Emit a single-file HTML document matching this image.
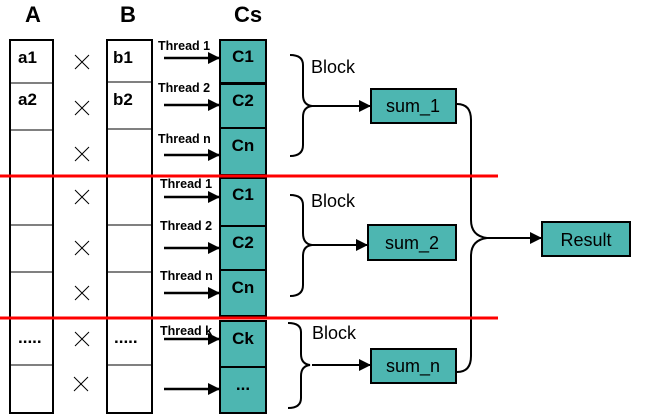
<!DOCTYPE html>
<html><head><style>body{margin:0;background:#fff}svg{display:block}</style></head><body>
<svg width="656" height="419" viewBox="0 0 656 419" xmlns="http://www.w3.org/2000/svg" font-family="Liberation Sans, Arial, sans-serif">
<defs><marker id="ah" markerWidth="12" markerHeight="12" refX="11" refY="6" orient="auto" markerUnits="userSpaceOnUse"><path d="M0,0 L12,6 L0,12 z" fill="#000"/></marker></defs>
<text x="33" y="22" font-size="22" font-weight="bold" text-anchor="middle">A</text>
<text x="128" y="22" font-size="22" font-weight="bold" text-anchor="middle">B</text>
<text x="248" y="22" font-size="22" font-weight="bold" text-anchor="middle">Cs</text>
<g fill="none" stroke="#000">
<rect x="10" y="40" width="43" height="373" stroke-width="2"/>
<rect x="107" y="40" width="45" height="373" stroke-width="2"/>
<path d="M10 83H53M10 130H53M10 225H53M10 272H53M10 365H53M107 82H152M107 129H152M107 225H152M107 272H152M107 365H152" stroke-width="1"/>
</g>
<g fill="#4db6b1" stroke="#000" stroke-width="2">
<rect x="220" y="40" width="46" height="43"/><rect x="220" y="84" width="46" height="44"/><rect x="220" y="128" width="46" height="47"/>
<rect x="220" y="178" width="46" height="48"/><rect x="220" y="226" width="46" height="44"/><rect x="220" y="270" width="46" height="46"/>
<rect x="220" y="321" width="46" height="46"/><rect x="220" y="367" width="46" height="46"/>
</g>
<g font-size="17" font-weight="bold" text-anchor="middle">
<text x="243" y="62">C1</text><text x="243" y="106">C2</text><text x="243" y="151">Cn</text>
<text x="243" y="200">C1</text><text x="243" y="248">C2</text><text x="243" y="293">Cn</text>
<text x="243" y="344">Ck</text><text x="243" y="390">...</text>
</g>
<g font-size="17" font-weight="bold">
<text x="18" y="63">a1</text><text x="18" y="105">a2</text>
<text x="113" y="63">b1</text><text x="113" y="105">b2</text>
<text x="18" y="343">.....</text><text x="114" y="343">.....</text>
</g>
<g stroke="#000" stroke-width="1">
<path d="M75 55l14 14M89 55l-14 14M75 101l14 14M89 101l-14 14M75 147l14 14M89 147l-14 14M75 190l14 14M89 190l-14 14M75 241l14 14M89 241l-14 14M75 286l14 14M89 286l-14 14M75 332l14 14M89 332l-14 14M74 377l14 14M88 377l-14 14"/>
</g>
<g font-size="12.5" font-weight="bold">
<text x="158" y="50">Thread 1</text><text x="158" y="92">Thread 2</text><text x="158" y="143">Thread n</text>
<text x="160" y="188">Thread 1</text><text x="160" y="230">Thread 2</text><text x="160" y="280">Thread n</text>
<text x="160" y="335">Thread k</text>
</g>
<g stroke="#000" stroke-width="2.5" marker-end="url(#ah)">
<line x1="164" y1="58" x2="219" y2="58"/><line x1="164" y1="105" x2="219" y2="105"/><line x1="164" y1="155" x2="219" y2="155"/>
<line x1="164" y1="197" x2="219" y2="197"/><line x1="164" y1="248" x2="219" y2="248"/><line x1="164" y1="293" x2="219" y2="293"/>
<line x1="164" y1="339" x2="219" y2="339"/><line x1="164" y1="389" x2="219" y2="389"/>
</g>
<g stroke="#000" stroke-width="2" marker-end="url(#ah)">
<line x1="310" y1="106" x2="370" y2="106"/><line x1="312" y1="245" x2="367" y2="245"/><line x1="312" y1="365" x2="370" y2="365"/><line x1="487" y1="238" x2="541" y2="238"/>
</g>
<g fill="none" stroke="#000" stroke-width="2">
<path d="M290 55q13 0 13 10v30q0 10 9 11q-9 1 -9 11v28q0 11 -13 11"/>
<path d="M290 195q13 0 13 10v28q0 11 9 12q-9 1 -9 11v29q0 11 -13 11"/>
<path d="M288 323q13 0 13 9v22q0 10 9 11q-9 1 -9 11v22q0 10 -13 10"/>
<path d="M457 104q14 0 14 16v100q0 16 16 18q-16 2 -16 18v100q0 16 -14 16"/>
</g>
<path d="M0 176H498M0 318H498" stroke="#f00" stroke-width="3"/>
<g font-size="18"><text x="311" y="73">Block</text><text x="311" y="207">Block</text><text x="312" y="339">Block</text></g>
<g fill="#4db6b1" stroke="#000" stroke-width="2">
<rect x="371" y="89" width="85" height="34"/><rect x="368" y="225" width="88" height="35"/><rect x="371" y="349" width="85" height="34"/><rect x="542" y="222" width="88" height="34"/>
</g>
<g font-size="18" text-anchor="middle"><text x="413" y="112">sum_1</text><text x="412" y="249">sum_2</text><text x="413" y="372">sum_n</text><text x="586" y="246">Result</text></g>
</svg>
</body></html>
